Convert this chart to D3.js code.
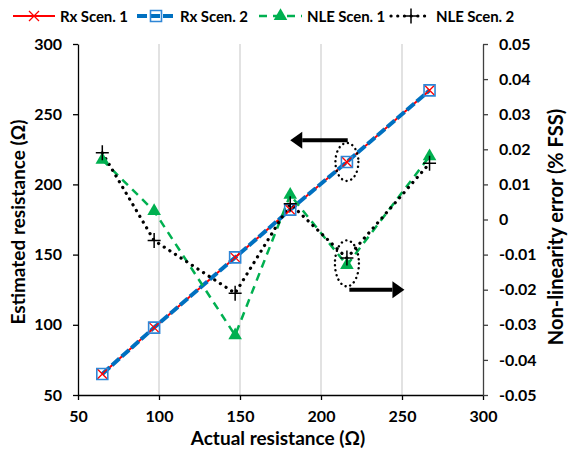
<!DOCTYPE html>
<html>
<head>
<meta charset="utf-8">
<script src="https://cdn.jsdelivr.net/npm/d3@7"></script>
<style>
  body { margin: 0; background: #fff; }
  text { font-family: Lato, "Open Sans", sans-serif; font-weight: bold; fill: #000; }
</style>
</head>
<body>
<div class="chart"></div>
<script>
// values
const actual = [65, 97, 147, 181, 216, 267];
const rxScen1 = [65, 98, 148, 182, 216, 267];
const rxScen2 = [65, 98, 148, 182, 216, 267];
const nleScen1 = [0.017, 0.0024, -0.033, 0.007, -0.013, 0.018];
const nleScen2 = [0.019, -0.006, -0.021, 0.0045, -0.011, 0.016];
const xTicks = [50, 100, 150, 200, 250, 300];
const yLeftTicks = [50, 100, 150, 200, 250, 300];
const yRightTicks = [-0.05, -0.04, -0.03, -0.02, -0.01, 0, 0.01, 0.02, 0.03, 0.04, 0.05];
const seriesNames = ['Rx Scen. 1', 'Rx Scen. 2', 'NLE Scen. 1', 'NLE Scen. 2'];

// annotations, in data units
const leftArrow = [[216.5, 231.5], [181, 231.5]];     // primary axis
const rightArrow = [[217.5, -0.02], [251.5, -0.02]];  // secondary axis
const circledRx = [216, 216];
const circledNle = [216, -0.0125];

function displayGraph() {
  const w = 568;
  const h = 453;
  const padding = { top: 44, right: 85, bottom: 58, left: 78 };

  const xScale = d3.scaleLinear().domain([50, 300]).range([padding.left, w - padding.right]);
  const yLeft = d3.scaleLinear().domain([50, 300]).range([h - padding.bottom, padding.top]);
  const yRight = d3.scaleLinear().domain([-0.05, 0.05]).range([h - padding.bottom, padding.top]);

  const svg = d3.select('.chart')
    .append('svg')
    .attr('width', w)
    .attr('height', h);

  // vertical gridlines
  svg.append('g')
    .selectAll('line')
    .data(xTicks.slice(1, -1))
    .join('line')
    .attr('x1', (d) => xScale(d))
    .attr('x2', (d) => xScale(d))
    .attr('y1', yLeft(300))
    .attr('y2', yLeft(50))
    .attr('stroke', '#d9d9d9')
    .attr('stroke-width', 1.5);

  const xAxis = svg.append('g')
    .attr('class', 'x-axis')
    .attr('transform', `translate(0, ${h - padding.bottom})`)
    .call(d3.axisBottom(xScale).tickValues(xTicks).tickSize(5).tickSizeOuter(0).tickPadding(11));

  const yAxisLeft = svg.append('g')
    .attr('class', 'y-axis')
    .attr('transform', `translate(${padding.left}, 0)`)
    .call(d3.axisLeft(yLeft).tickValues(yLeftTicks).tickSize(5).tickSizeOuter(0).tickPadding(11));

  const yAxisRight = svg.append('g')
    .attr('class', 'y-axis-right')
    .attr('transform', `translate(${w - padding.right}, 0)`)
    .call(d3.axisRight(yRight).tickValues(yRightTicks)
      .tickFormat((d) => (d === 0 ? '0' : d.toFixed(2)))
      .tickSize(5).tickSizeOuter(0).tickPadding(11));

  [xAxis, yAxisLeft].forEach((g) => {
    g.selectAll('path, line').attr('stroke', '#000').attr('stroke-width', 1.3);
  });
  yAxisRight.selectAll('path, line').attr('stroke', '#404040').attr('stroke-width', 1.3);
  svg.selectAll('.tick text').attr('font-size', 16).attr('font-family', 'Lato, sans-serif');

  // axis titles
  svg.append('text')
    .attr('x', 278)
    .attr('y', 445)
    .attr('text-anchor', 'middle')
    .attr('font-size', 19)
    .text('Actual resistance (\u03A9)');

  svg.append('text')
    .attr('transform', 'translate(25, 222) rotate(-90)')
    .attr('text-anchor', 'middle')
    .attr('font-size', 19)
    .text('Estimated resistance (\u03A9)');

  svg.append('text')
    .attr('transform', 'translate(563, 227) rotate(-90)')
    .attr('text-anchor', 'middle')
    .attr('font-size', 20)
    .text('Non-linearity error (% FSS)');

  // series
  const styles = [
    { values: rxScen1, y: yLeft, color: '#ff0000', width: 2, dash: null, cap: 'butt', marker: 'x' },
    { values: rxScen2, y: yLeft, color: '#0070c0', width: 4, dash: '10 3', cap: 'butt', marker: 'square' },
    { values: nleScen1, y: yRight, color: '#00b050', width: 2.5, dash: '8 6', cap: 'butt', marker: 'triangle' },
    { values: nleScen2, y: yRight, color: '#000', width: 3.2, dash: '0.1 6.6', cap: 'round', marker: 'plus' }
  ];

  const markerPath = {
    x: 'M-5,-5L5,5M-5,5L5,-5',
    plus: 'M-6.5,0H6.5M0,-7.5V7.5',
    square: 'M-5.5,-5.5H5.5V5.5H-5.5Z',
    triangle: d3.symbol(d3.symbolTriangle, 80)()
  };

  function drawMarker(g, s) {
    const p = g.append('path').attr('d', markerPath[s.marker]);
    if (s.marker === 'triangle') {
      p.attr('fill', s.color);
    } else if (s.marker === 'square') {
      p.attr('fill', 'none').attr('stroke', '#2f86d6').attr('stroke-width', 1.6);
    } else if (s.marker === 'x') {
      p.attr('fill', 'none').attr('stroke', s.color).attr('stroke-width', 1.3);
    } else {
      p.attr('fill', 'none').attr('stroke', s.color).attr('stroke-width', 1.5);
    }
  }

  styles.forEach((s) => {
    const line = d3.line()
      .x((d, i) => xScale(actual[i]))
      .y((d) => s.y(d));
    svg.append('path')
      .datum(s.values)
      .attr('d', line)
      .attr('fill', 'none')
      .attr('stroke', s.color)
      .attr('stroke-width', s.width)
      .attr('stroke-dasharray', s.dash)
      .attr('stroke-linecap', s.cap);
  });

  styles.forEach((s) => {
    s.values.forEach((v, i) => {
      const g = svg.append('g').attr('transform', `translate(${xScale(actual[i])}, ${s.y(v)})`);
      drawMarker(g, s);
    });
  });

  // dotted ellipses and arrows
  svg.append('ellipse')
    .attr('cx', xScale(circledRx[0]))
    .attr('cy', yLeft(circledRx[1]))
    .attr('rx', 11.5)
    .attr('ry', 19);
  svg.append('ellipse')
    .attr('cx', xScale(circledNle[0]))
    .attr('cy', yRight(circledNle[1]))
    .attr('rx', 12)
    .attr('ry', 23);
  svg.selectAll('ellipse')
    .attr('fill', 'none')
    .attr('stroke', '#000')
    .attr('stroke-width', 2.4)
    .attr('stroke-dasharray', '0.1 4.8')
    .attr('stroke-linecap', 'round');

  function arrow(from, to) {
    const dir = Math.sign(to[0] - from[0]);
    const headLen = 12;
    const half = 8.5;
    const yy = from[1];
    svg.append('line')
      .attr('x1', from[0])
      .attr('x2', to[0] - dir * headLen)
      .attr('y1', yy)
      .attr('y2', yy)
      .attr('stroke', '#000')
      .attr('stroke-width', 4);
    svg.append('path')
      .attr('d', `M${to[0]},${yy}L${to[0] - dir * headLen},${yy - half}L${to[0] - dir * headLen},${yy + half}Z`)
      .attr('fill', '#000');
  }
  arrow([xScale(leftArrow[0][0]), yLeft(leftArrow[0][1])], [xScale(leftArrow[1][0]), yLeft(leftArrow[1][1])]);
  arrow([xScale(rightArrow[0][0]), yRight(rightArrow[0][1])], [xScale(rightArrow[1][0]), yRight(rightArrow[1][1])]);

  // legend
  const legendX = [13, 137, 259, 391];
  const legendLen = [42, 38, 43, 40];
  const legend = svg.append('g').attr('transform', 'translate(0, 16)');
  styles.forEach((s, i) => {
    const g = legend.append('g').attr('transform', `translate(${legendX[i]}, 0)`);
    g.append('line')
      .attr('x1', 0)
      .attr('x2', legendLen[i])
      .attr('stroke', s.color)
      .attr('stroke-width', s.width)
      .attr('stroke-dasharray', s.dash)
      .attr('stroke-linecap', s.cap);
    const m = g.append('g').attr('transform', `translate(${legendLen[i] / 2}, 0)`);
    drawMarker(m, s);
    g.append('text')
      .attr('x', legendLen[i] + 5)
      .attr('y', 5.5)
      .attr('font-size', 15)
      .attr('letter-spacing', -0.1)
      .text(seriesNames[i]);
  });
}

displayGraph();
</script>
</body>
</html>
